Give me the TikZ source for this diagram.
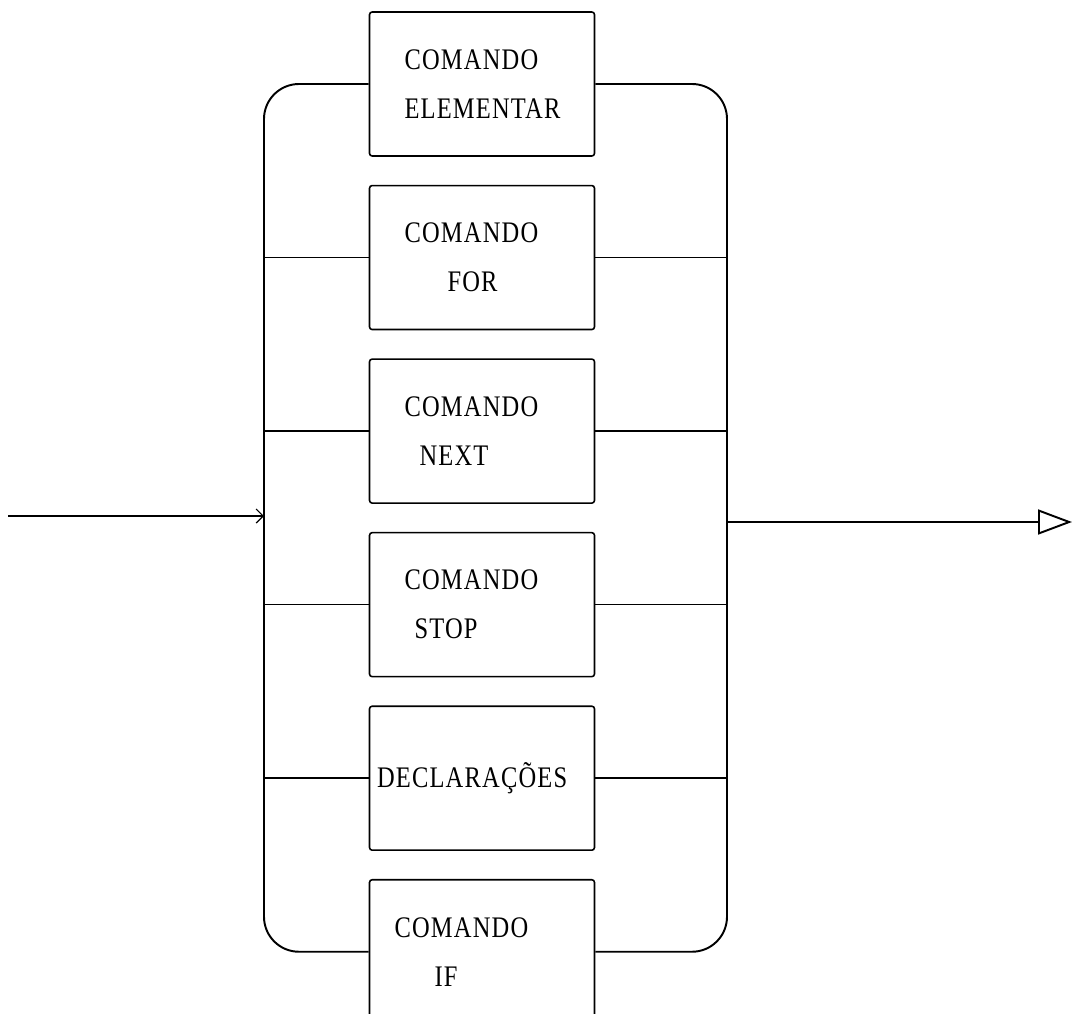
\documentclass[tikz,border=0pt]{standalone}
\usepackage{fontspec}
\usepackage{tikz}
\usetikzlibrary{arrows.meta, positioning, calc}
\newfontfamily\boxfont{Liberation Serif}[FakeStretch=0.82, LetterSpace=4]

\begin{document}
\begin{tikzpicture}[
    x=0.02cm, y=-0.02cm,
    node distance=0.56cm,
    cmdbox/.style={rectangle, draw, line width=0.9pt, rounded corners=1.5pt, minimum width=4.5cm, minimum height=2.88cm, text width=3.1cm, align=left, inner sep=0pt, font={\boxfont\fontsize{17}{28}\selectfont}},
    bus/.style={line width=1.1pt, rounded corners=0.7cm},
    branch/.style={line width=0.9pt},
    arrow/.style={line width=0.7pt, -{Straight Barb[length=4pt]}},
    outarrow/.style={line width=0.7pt, -{Triangle[open, length=0.68cm, width=0.5cm, line width=1.1pt]}}
]
    \useasboundingbox (0,0) rectangle (1072,1014);

    \node [cmdbox] (elem) at (482,84) {COMANDO\\ELEMENTAR};
    \node [cmdbox, below=of elem] (cfor) {COMANDO\\\hspace*{0.86cm}FOR};
    \node [cmdbox, below=of cfor] (cnext) {COMANDO\\\hspace*{0.3cm}NEXT};
    \node [cmdbox, below=of cnext] (cstop) {COMANDO\\\hspace*{0.2cm}STOP};
    \node [cmdbox, below=of cstop] (decl) {\hspace*{-0.55cm}DECLARAÇÕES};
    \node [cmdbox, below=of decl] (cif) {\hspace*{-0.2cm}COMANDO\\\hspace*{0.6cm}IF};

    \coordinate (lsp) at (264,516);
    \coordinate (rsp) at (727,522);
    \coordinate (in) at (8,516);
    \coordinate (out) at (1072,522);

    % the two rails round the boxes
    \draw [bus] (elem.west) -| (lsp) |- (cif.west);
    \draw [bus] (elem.east) -| (rsp) |- (cif.east);

    \draw [branch] (cfor.west) -- (cfor.west -| lsp);
    \draw [branch] (cnext.west) -- (cnext.west -| lsp);
    \draw [branch] (cstop.west) -- (cstop.west -| lsp);
    \draw [branch] (decl.west) -- (decl.west -| lsp);

    \draw [branch] (cfor.east) -- (cfor.east -| rsp);
    \draw [branch] (cnext.east) -- (cnext.east -| rsp);
    \draw [branch] (cstop.east) -- (cstop.east -| rsp);
    \draw [branch] (decl.east) -- (decl.east -| rsp);

    \draw [arrow] (in) -- (lsp);
    \draw [outarrow] (rsp) -- (out);
\end{tikzpicture}
\end{document}
